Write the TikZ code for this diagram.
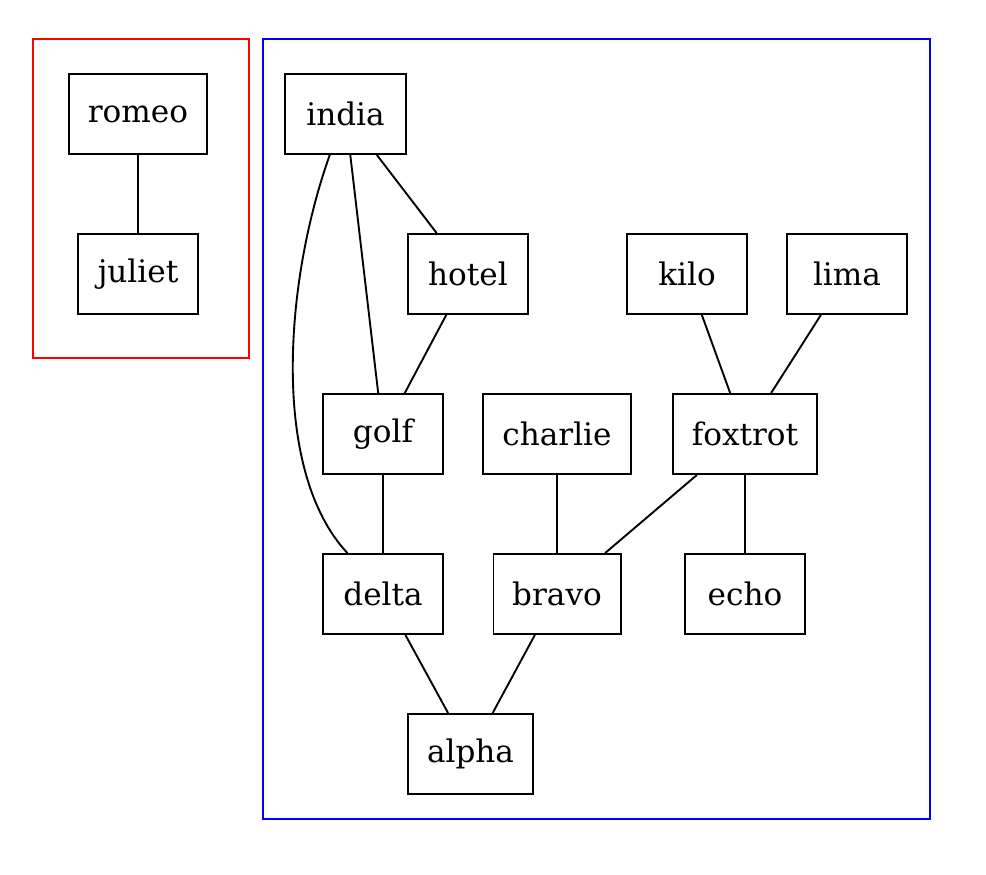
\documentclass[tikz,border=0pt]{standalone}
\usepackage{fontspec}
\setmainfont{DejaVu Serif}
\begin{document}
\begin{tikzpicture}[x=0.45pt,y=-0.45pt,
  nd/.style={draw,line width=0.85pt,rectangle,inner sep=0pt,minimum height=36pt,font=\fontsize{14}{16}\selectfont},
  ed/.style={line width=0.85pt},
  clu/.style={line width=1pt}]
\useasboundingbox (0,0) rectangle (986,874);
\draw[clu,red] (33,39) rectangle (249,358);
\draw[clu,blue] (263,39) rectangle (930,819);
\node[nd,minimum width=62pt] (romeo) at (138,114) {romeo};
\node[nd,minimum width=54pt] (juliet) at (138,274) {juliet};
\node[nd,minimum width=54.5pt] (india) at (345.5,114) {india};
\node[nd,minimum width=54pt] (hotel) at (468,274) {hotel};
\node[nd,minimum width=54pt] (kilo) at (687,274) {kilo};
\node[nd,minimum width=54pt] (lima) at (847,274) {lima};
\node[nd,minimum width=54pt] (golf) at (383,434) {golf};
\node[nd,minimum width=66.6pt] (charlie) at (557,434) {charlie};
\node[nd,minimum width=64.8pt] (foxtrot) at (745,434) {foxtrot};
\node[nd,minimum width=54pt] (delta) at (383,594) {delta};
\node[nd,minimum width=57.2pt] (bravo) at (557,594) {bravo};
\node[nd,minimum width=54pt] (echo) at (745,594) {echo};
\node[nd,minimum width=56.2pt] (alpha) at (470.5,754) {alpha};
\draw[ed] (romeo) -- (juliet);
\draw[ed] (india) -- (hotel);
\draw[ed] (india) -- (golf);
\draw[ed] (india.249) .. controls (285,280) and (270,470) .. (delta.131);
\draw[ed] (hotel) -- (golf);
\draw[ed] (kilo) -- (foxtrot);
\draw[ed] (lima) -- (foxtrot);
\draw[ed] (golf) -- (delta);
\draw[ed] (charlie) -- (bravo);
\draw[ed] (foxtrot) -- (bravo);
\draw[ed] (foxtrot) -- (echo);
\draw[ed] (delta) -- (alpha);
\draw[ed] (bravo) -- (alpha);
\end{tikzpicture}
\end{document}
